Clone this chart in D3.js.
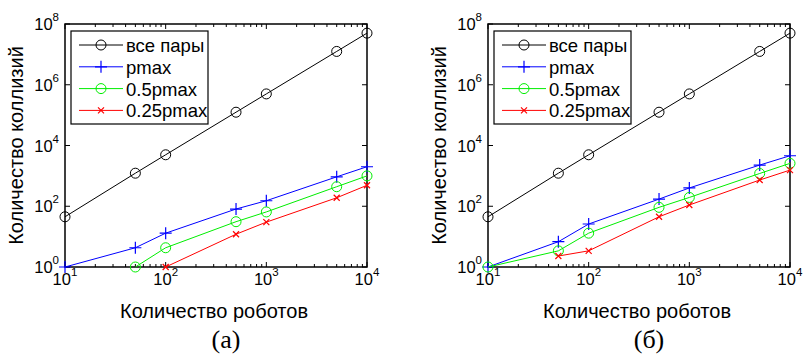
<!DOCTYPE html>
<html>
<head>
<meta charset="utf-8">
<script src="https://cdn.jsdelivr.net/npm/d3@7"></script>
<style>
  body { margin: 0; background: #fff; }
  svg { display: block; }
  text { font-family: "Liberation Sans", Arial, sans-serif; fill: #000; }
</style>
</head>
<body>
<svg id="chart" width="804" height="356"></svg>
<script>
// number of robots
var robots = [10, 50, 100, 500, 1000, 5000, 10000];

// panel (a)
var allPairsA = [45, 1225, 4950, 124750, 499500, 12497500, 49995000];
var pmaxA     = [1, 4.3, 13, 81, 152, 930, 2000];
var halfA     = [null, 1, 4.3, 31, 65, 440, 1000];
var quarterA  = [null, null, 1, 12, 30, 190, 490];

// panel (b)
var allPairsB = [45, 1225, 4950, 124750, 499500, 12497500, 49995000];
var pmaxB     = [1, 6.8, 26, 172, 400, 2270, 4600];
var halfB     = [1, 3.4, 13, 92, 195, 1200, 2580];
var quarterB  = [null, 2.3, 3.4, 45, 110, 730, 1550];

var seriesNames = ["все пары", "pmax", "0.5pmax", "0.25pmax"];
var seriesColors = ["#000000", "#0000ff", "#00ee00", "#ff0000"];
var seriesMarkers = ["circle", "plus", "circle", "cross"];

var xTickExp = [1, 2, 3, 4];
var yTickExp = [0, 2, 4, 6, 8];

var xAxisTitle = "Количество роботов";
var yAxisTitle = "Количество коллизий";

var svg = d3.select("#chart");

function drawMarker(g, type, cx, cy, color) {
  if (type == "circle") {
    g.append("circle").attr("cx", cx).attr("cy", cy).attr("r", 5)
      .attr("fill", "none").attr("stroke", color).attr("stroke-width", 1);
  } else if (type == "plus") {
    g.append("path")
      .attr("d", "M" + (cx - 6) + "," + cy + "H" + (cx + 6) + "M" + cx + "," + (cy - 6) + "V" + (cy + 6))
      .attr("stroke", color).attr("stroke-width", 1.2);
  } else {
    g.append("path")
      .attr("d", "M" + (cx - 3) + "," + (cy - 3) + "L" + (cx + 3) + "," + (cy + 3) +
                 "M" + (cx - 3) + "," + (cy + 3) + "L" + (cx + 3) + "," + (cy - 3))
      .attr("stroke", color).attr("stroke-width", 1.2);
  }
}

function drawPanel(left, right, series, label) {
  var top = 24, bottom = 267;
  var x = d3.scaleLog().domain([10, 10000]).range([left, right]);
  var y = d3.scaleLog().domain([1, 1e8]).range([bottom, top]);

  var g = svg.append("g");

  // x ticks (major + minor), inward on top and bottom
  var xMinor = [];
  [10, 100, 1000].forEach(function(d) {
    for (var k = 2; k <= 9; k++) xMinor.push(d * k);
  });
  xMinor.forEach(function(v) {
    g.append("line").attr("x1", x(v)).attr("x2", x(v)).attr("y1", bottom).attr("y2", bottom - 3)
      .attr("stroke", "#000").attr("stroke-width", 1);
    g.append("line").attr("x1", x(v)).attr("x2", x(v)).attr("y1", top).attr("y2", top + 3)
      .attr("stroke", "#000").attr("stroke-width", 1);
  });
  xTickExp.forEach(function(e) {
    var v = Math.pow(10, e);
    g.append("line").attr("x1", x(v)).attr("x2", x(v)).attr("y1", bottom).attr("y2", bottom - 5)
      .attr("stroke", "#000").attr("stroke-width", 1);
    g.append("line").attr("x1", x(v)).attr("x2", x(v)).attr("y1", top).attr("y2", top + 5)
      .attr("stroke", "#000").attr("stroke-width", 1);
    var t = g.append("text").attr("x", x(v)).attr("y", bottom + 18)
      .attr("text-anchor", "middle").style("font-size", "16.5px");
    t.append("tspan").text("10");
    t.append("tspan").attr("dy", -9).style("font-size", "11.5px").text(e);
  });

  // y ticks
  yTickExp.forEach(function(e) {
    var v = Math.pow(10, e);
    g.append("line").attr("x1", left).attr("x2", left + 5).attr("y1", y(v)).attr("y2", y(v))
      .attr("stroke", "#000").attr("stroke-width", 1);
    g.append("line").attr("x1", right).attr("x2", right - 5).attr("y1", y(v)).attr("y2", y(v))
      .attr("stroke", "#000").attr("stroke-width", 1);
    var t = g.append("text").attr("x", left - 6).attr("y", y(v) + 6)
      .attr("text-anchor", "end").style("font-size", "16.5px");
    t.append("tspan").text("10");
    t.append("tspan").attr("dy", -9).style("font-size", "11.5px").text(e);
  });

  // frame
  g.append("rect").attr("x", left).attr("y", top)
    .attr("width", right - left).attr("height", bottom - top)
    .attr("fill", "none").attr("stroke", "#000").attr("stroke-width", 1.5);

  // series
  var line = d3.line()
    .defined(function(d) { return d.v != null; })
    .x(function(d) { return x(d.n); })
    .y(function(d) { return y(d.v); });

  series.forEach(function(vals, i) {
    var pts = robots.map(function(n, j) { return {n: n, v: vals[j]}; });
    g.append("path").datum(pts)
      .attr("d", line)
      .attr("fill", "none")
      .attr("stroke", seriesColors[i])
      .attr("stroke-width", 1);
    pts.filter(function(d) { return d.v != null; }).forEach(function(d) {
      drawMarker(g, seriesMarkers[i], x(d.n), y(d.v), seriesColors[i]);
    });
  });

  // legend
  var lx = left + 6, ly = 31;
  var lg = g.append("g");
  lg.append("rect").attr("x", lx).attr("y", ly).attr("width", 137).attr("height", 93)
    .attr("fill", "#fff").attr("stroke", "#000").attr("stroke-width", 1.2);
  seriesNames.forEach(function(name, i) {
    var cy = ly + 14 + i * 21.8;
    lg.append("line").attr("x1", lx + 8).attr("x2", lx + 52).attr("y1", cy).attr("y2", cy)
      .attr("stroke", seriesColors[i]).attr("stroke-width", 1);
    drawMarker(lg, seriesMarkers[i], lx + 30, cy, seriesColors[i]);
    lg.append("text").attr("x", lx + 55).attr("y", cy + 7)
      .style("font-size", "18.5px").text(name);
  });

  // axis titles
  g.append("text").attr("x", (left + right) / 2 - 2).attr("y", 318)
    .attr("text-anchor", "middle").style("font-size", "20px").text(xAxisTitle);
  g.append("text")
    .attr("transform", "translate(" + (left - 42) + "," + ((top + bottom) / 2) + ") rotate(-90)")
    .attr("text-anchor", "middle").style("font-size", "20px").text(yAxisTitle);

  // panel label
  g.append("text").attr("x", (left + right) / 2 + 10).attr("y", 348)
    .attr("text-anchor", "middle")
    .style("font-family", "'Liberation Serif', 'Times New Roman', serif")
    .style("font-size", "26px").text(label);
}

drawPanel(65, 367, [allPairsA, pmaxA, halfA, quarterA], "(а)");
drawPanel(488, 790, [allPairsB, pmaxB, halfB, quarterB], "(б)");
</script>
</body>
</html>
